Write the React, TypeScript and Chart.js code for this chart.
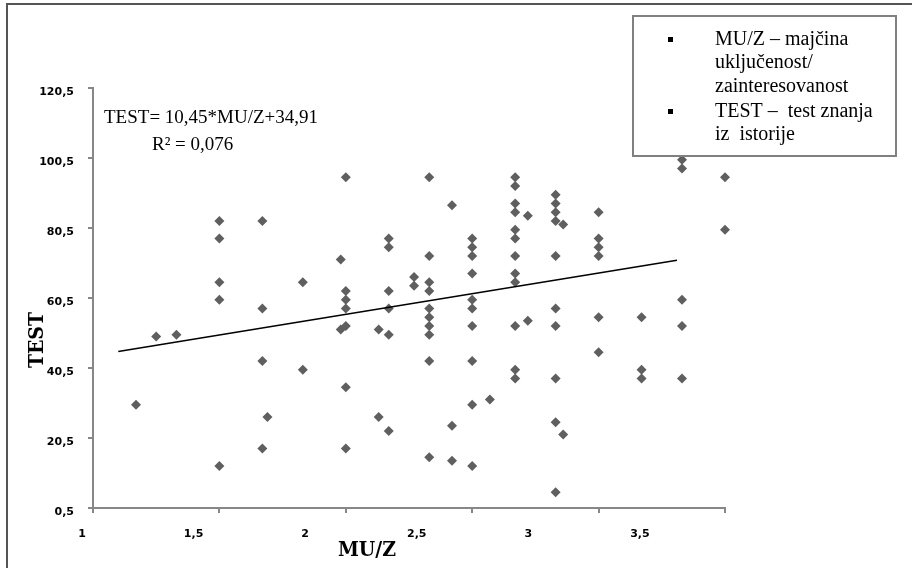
import React, { useEffect, useRef } from "react";
import { Chart, registerables } from "chart.js";

Chart.register(...registerables);

// MU/Z values (x) and TEST values (y), one entry per respondent
const MUZ = [
  1.17, 1.25, 1.33,
  1.5, 1.5, 1.5, 1.5, 1.5,
  1.67, 1.67, 1.67, 1.67, 1.69,
  1.83, 1.83,
  1.98, 1.98,
  2.0, 2.0, 2.0, 2.0, 2.0, 2.0, 2.0,
  2.13, 2.13,
  2.17, 2.17, 2.17, 2.17, 2.17, 2.17,
  2.27, 2.27,
  2.33, 2.33, 2.33, 2.33, 2.33, 2.33, 2.33, 2.33, 2.33, 2.33,
  2.42, 2.42, 2.42,
  2.5, 2.5, 2.5, 2.5, 2.5, 2.5, 2.5, 2.5, 2.5, 2.5,
  2.57,
  2.67, 2.67, 2.67, 2.67, 2.67, 2.67, 2.67, 2.67, 2.67, 2.67, 2.67, 2.67,
  2.72, 2.72,
  2.83, 2.83, 2.83, 2.83, 2.83, 2.83, 2.83, 2.83, 2.83, 2.83,
  2.86, 2.86,
  3.0, 3.0, 3.0, 3.0, 3.0, 3.0,
  3.17, 3.17, 3.17,
  3.33, 3.33, 3.33, 3.33, 3.33,
  3.5, 3.5,
];
const TEST = [
  30, 49.5, 50,
  82.5, 77.5, 65, 60, 12.5,
  82.5, 57.5, 42.5, 17.5, 26.5,
  65, 40,
  71.5, 51.5,
  95, 62.5, 60, 57.5, 52.5, 35, 17.5,
  51.5, 26.5,
  77.5, 75, 62.5, 57.5, 50, 22.5,
  66.5, 64,
  95, 72.5, 65, 62.5, 57.5, 55, 52.5, 50, 42.5, 15,
  87, 24, 14,
  77.5, 75, 72.5, 67.5, 60, 57.5, 52.5, 42.5, 30, 12.5,
  31.5,
  95, 92.5, 87.5, 85, 80, 77.5, 72.5, 67.5, 65, 52.5, 40, 37.5,
  84, 54,
  90, 87.5, 85, 82.5, 72.5, 57.5, 52.5, 37.5, 25, 5,
  81.5, 21.5,
  85, 77.5, 75, 72.5, 55, 45,
  55, 40, 37.5,
  100, 97.5, 60, 52.5, 37.5,
  95, 80,
];

// linear trend line end points (as drawn)
const TREND_X = [1.1, 3.31];
const TREND_Y = [45.2, 71.3];

const X_TICKS = [1, 1.5, 2, 2.5, 3, 3.5];
const Y_TICKS = [0.5, 20.5, 40.5, 60.5, 80.5, 100.5, 120.5];

const X_TITLE = "MU/Z";
const Y_TITLE = "TEST";
const EQUATION = "TEST= 10,45*MU/Z+34,91";
const R2_TEXT = "R\u00B2 = 0,076";
const LEGEND_LINES: { text: string; bullet: boolean }[] = [
  { text: "MU/Z \u2013 maj\u010Dina", bullet: true },
  { text: "uklju\u010Denost/", bullet: false },
  { text: "zainteresovanost", bullet: false },
  { text: "TEST \u2013  test znanja", bullet: true },
  { text: "iz  istorije", bullet: false },
];

const AXIS = "#878787";
const POINT = "#5f5f5f";
const TICK_FONT = { family: '"DejaVu Sans", sans-serif', weight: "bold" as const, size: 11 };

const fmt = (v: number) => String(v).replace(".", ",");

const decor = {
  id: "decor",
  beforeDraw(chart: any) {
    const ctx = chart.ctx;
    ctx.save();
    ctx.fillStyle = "#ffffff";
    ctx.fillRect(0, 0, chart.width, chart.height);
    ctx.strokeStyle = "#555555";
    ctx.lineWidth = 2;
    ctx.beginPath();
    ctx.moveTo(7, 568);
    ctx.lineTo(7, 4);
    ctx.lineTo(912, 4);
    ctx.stroke();
    ctx.restore();
  },
  afterDraw(chart: any) {
    const ctx = chart.ctx;
    ctx.save();
    ctx.fillStyle = "#000";
    ctx.textBaseline = "middle";
    ctx.textAlign = "left";
    ctx.font = '19px "Liberation Serif", serif';
    ctx.fillText(EQUATION, 104, 118);
    ctx.fillText(R2_TEXT, 152, 145);

    ctx.font = 'bold 21px "DejaVu Serif Condensed", "DejaVu Serif", serif';
    ctx.textAlign = "center";
    ctx.fillText(X_TITLE, 367, 551);
    ctx.save();
    ctx.translate(38, 340);
    ctx.rotate(-Math.PI / 2);
    ctx.fillText(Y_TITLE, 0, 0);
    ctx.restore();

    // legend box
    ctx.fillStyle = "#fff";
    ctx.fillRect(633, 16, 263, 140);
    ctx.strokeStyle = "#808080";
    ctx.lineWidth = 2;
    ctx.strokeRect(633, 16, 263, 140);
    ctx.fillStyle = "#000";
    ctx.font = '20px "Liberation Serif", serif';
    ctx.textAlign = "left";
    const ys = [40, 63, 87, 112, 135];
    LEGEND_LINES.forEach((l, i) => {
      if (l.bullet) ctx.fillRect(668, ys[i] - 3, 5, 5);
      ctx.fillText(l.text, 715, ys[i]);
    });
    ctx.restore();
  },
};

export default function App() {
  const ref = useRef<HTMLCanvasElement | null>(null);
  useEffect(() => {
    if (!ref.current) return;
    const chart = new Chart(ref.current, {
      type: "scatter",
      data: {
        datasets: [
          {
            label: "trend",
            data: TREND_X.map((x, i) => ({ x, y: TREND_Y[i] })),
            showLine: true,
            borderColor: "#000",
            borderWidth: 1.5,
            pointRadius: 0,
            fill: false,
            clip: false as any,
          },
          {
            label: "TEST",
            data: MUZ.map((x, i) => ({ x, y: TEST[i] })),
            pointStyle: "rectRot",
            pointRadius: 5,
            backgroundColor: POINT,
            borderColor: POINT,
            borderWidth: 0,
            clip: false as any,
          },
        ],
      },
      options: {
        responsive: false,
        animation: false,
        layout: { padding: { left: 0, top: 88, right: 912 - 725, bottom: 0 } },
        plugins: { legend: { display: false }, tooltip: { enabled: false }, title: { display: false } },
        scales: {
          x: {
            type: "linear",
            position: "bottom",
            min: 1,
            max: 3.5,
            afterBuildTicks: (s: any) => {
              s.ticks = X_TICKS.map((v) => ({ value: v }));
            },
            ticks: { display: false },
            grid: { drawOnChartArea: false, drawTicks: true, tickLength: 5, color: AXIS, lineWidth: 2 },
            border: { display: true, color: AXIS, width: 2 },
            afterFit: (s: any) => {
              s.height = 5;
            },
          },
          x2: {
            type: "linear",
            position: "bottom",
            min: 1,
            max: 3.832,
            afterBuildTicks: (s: any) => {
              s.ticks = X_TICKS.map((v) => ({ value: v }));
            },
            grid: { display: false, drawTicks: false },
            border: { display: false },
            ticks: {
              labelOffset: -11,
              padding: 15,
              font: TICK_FONT,
              color: "#000",
              maxRotation: 0,
              autoSkip: false,
              callback: (v: any) => fmt(Number(v)),
            },
            afterFit: (s: any) => {
              s.height = 568 - 508 - 5;
            },
          },
          y: {
            type: "linear",
            min: 0.5,
            max: 120.5,
            afterBuildTicks: (s: any) => {
              s.ticks = Y_TICKS.map((v) => ({ value: v }));
            },
            ticks: {
              padding: 14,
              labelOffset: 4,
              font: TICK_FONT,
              color: "#000",
              callback: (v: any) => fmt(Number(v)),
            },
            grid: { drawOnChartArea: false, drawTicks: true, tickLength: 5, color: AXIS, lineWidth: 2 },
            border: { display: true, color: AXIS, width: 2 },
            afterFit: (s: any) => {
              s.width = 93;
            },
          },
        },
      } as any,
      plugins: [decor],
    });
    return () => chart.destroy();
  }, []);
  return (
    <div style={{ position: "absolute", left: 0, top: 0, width: 912, height: 568 }}>
      <canvas ref={ref} width={912} height={568} style={{ display: "block" }} />
    </div>
  );
}
